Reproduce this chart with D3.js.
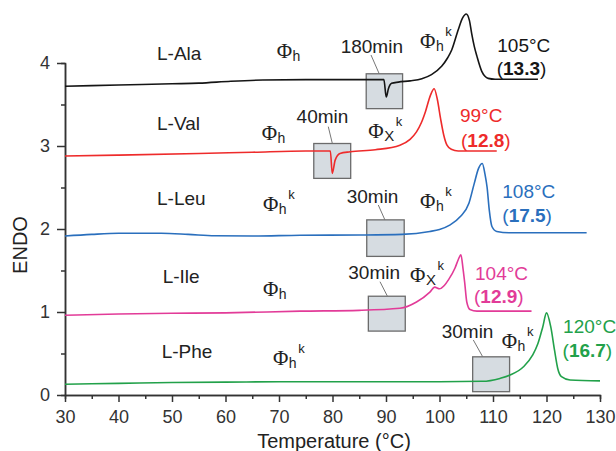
<!DOCTYPE html>
<html>
<head>
<meta charset="utf-8">
<script src="https://cdn.jsdelivr.net/npm/d3@7"></script>
<style>
  html, body { margin: 0; padding: 0; background: #fff; }
  svg { display: block; font-family: "Liberation Sans", Arial, sans-serif; }
</style>
</head>
<body>
<svg id="chart" width="616" height="451"></svg>
<script>
// DSC heating traces of five amino acids, stacked vertically (Temperature in °C, ENDO up)
const categories = ["L-Ala", "L-Val", "L-Leu", "L-Ile", "L-Phe"];
const seriesColors = ["#151515", "#ee2b2b", "#2a6fbd", "#e23b98", "#22a14a"];
const peakTemps = [105, 99, 108, 104, 120];
const enthalpies = ["13.3", "12.8", "17.5", "12.9", "16.7"];
const isothermTimes = ["180min", "40min", "30min", "30min", "30min"];

// [temperature, signal] samples for each trace
const alaTrace = [[30,3.72],[40,3.735],[50,3.75],[55,3.757],[61,3.78],[67,3.795],[75,3.80],[85,3.80],[89.6,3.80],[90.05,3.59],[90.45,3.69],[91.05,3.755],[92.3,3.77],[94.5,3.785],[96.7,3.81],[98.5,3.86],[100.4,3.96],[101.5,4.06],[102.3,4.16],[103.5,4.40],[104.3,4.54],[105,4.59],[105.6,4.51],[106,4.36],[106.5,4.20],[107,4.08],[107.9,3.90],[108.5,3.84],[109.1,3.815],[110.4,3.805],[118.4,3.805]];
const valTrace = [[30,2.88],[40,2.89],[55,2.91],[65,2.925],[75,2.94],[79.6,2.94],[79.95,2.67],[80.5,2.83],[81.4,2.91],[83.3,2.93],[88,2.955],[92.6,3.01],[94.5,3.08],[95.7,3.17],[96.6,3.28],[97.4,3.42],[98.3,3.61],[99,3.69],[99.6,3.56],[100.2,3.33],[100.8,3.13],[101.4,3.01],[102.2,2.96],[103.5,2.94],[110.7,2.94]];
const leuTrace = [[30,1.915],[35,1.935],[40,1.948],[48,1.948],[53,1.935],[58,1.918],[65,1.915],[74,1.925],[85,1.928],[93,1.935],[98.2,1.97],[100,1.995],[102,2.05],[103.9,2.15],[105.5,2.31],[106.5,2.55],[107.3,2.73],[108,2.79],[108.5,2.66],[108.9,2.50],[109.3,2.23],[109.8,2.03],[110.7,1.97],[113,1.955],[127.5,1.955]];
const ileTrace = [[30,0.96],[40,0.975],[50,0.985],[60,0.99],[74,1.01],[85,1.02],[92.6,1.045],[95.7,1.12],[98.2,1.24],[99.1,1.30],[100,1.28],[100.9,1.32],[101.7,1.39],[102.9,1.53],[103.5,1.63],[104,1.69],[104.4,1.52],[104.7,1.36],[105.1,1.12],[105.7,1.03],[107,1.01],[117.2,1.01]];
const pheTrace = [[30,0.13],[40,0.14],[50,0.15],[60,0.155],[70,0.16],[80,0.16],[90,0.16],[100,0.16],[108,0.165],[111.3,0.20],[113.2,0.24],[115.7,0.34],[117.4,0.48],[118.4,0.62],[119.3,0.82],[120,0.99],[120.8,0.82],[121.5,0.54],[122.1,0.32],[122.8,0.22],[124.4,0.18],[130,0.17]];
const traces = [alaTrace, valTrace, leuTrace, ileTrace, pheTrace];

const xTicks = [30, 40, 50, 60, 70, 80, 90, 100, 110, 120, 130];
const xMinorTicks = [35, 45, 55, 65, 75, 85, 95, 105, 115, 125];
const yTicks = [0, 1, 2, 3, 4];
const yMinorTicks = [0.5, 1.5, 2.5, 3.5];

const svg = d3.select("#chart");
const x = d3.scaleLinear().domain([30, 130]).range([65, 600]);
const y = d3.scaleLinear().domain([0, 4]).range([395, 63]);

// annotation anchors in data units (temperature, signal)
const nameAt = [[47.2, 4.036], [47.2, 3.193], [47.2, 2.293], [48.26, 1.353], [48.07, 0.442]];
const phaseLabels = [
  { at: [69.57, 4.057], sub: "h", sup: "" },
  { at: [96.36, 4.177], sub: "h", sup: "k" },
  { at: [66.77, 3.072], sub: "h", sup: "" },
  { at: [86.69, 3.096], sub: "X", sup: "k" },
  { at: [67.01, 2.217], sub: "h", sup: "k" },
  { at: [96.36, 2.247], sub: "h", sup: "k" },
  { at: [67.01, 1.193], sub: "h", sup: "" },
  { at: [94.49, 1.367], sub: "X", sup: "k" },
  { at: [68.88, 0.361], sub: "h", sup: "k" },
  { at: [111.63, 0.572], sub: "h", sup: "k" }
];
const timeAt = [[81.53, 4.117], [73.29, 3.273], [82.65, 2.310], [82.95, 1.394], [100.41, 0.683]];
const leaderAt = [
  [[87.2, 4.096], [88.75, 3.867]],
  [[79.21, 3.233], [79.96, 3.033]],
  [[88.56, 2.289], [89.81, 2.108]],
  [[88.88, 1.365], [90.24, 1.193]],
  [[106.32, 0.663], [108.07, 0.461]]
];
const boxAt = [
  [86.3, 93.1, 3.87, 3.45],
  [76.5, 83.4, 3.03, 2.61],
  [86.4, 93.4, 2.11, 1.67],
  [86.7, 93.6, 1.19, 0.77],
  [106.2, 113.1, 0.46, 0.04]
];
const peakLabelAt = [
  [[110.80, 4.136], [110.69, 3.855]],
  [[103.83, 3.293], [104.02, 2.992]],
  [[111.74, 2.370], [111.74, 2.084]],
  [[106.64, 1.386], [106.45, 1.105]],
  [[123.1, 0.743], [123.0, 0.461]]
];

// axes
const axisColor = "#333";
function styleAxis(g) {
  g.select(".domain").attr("stroke", axisColor).attr("stroke-width", 1.5);
  g.selectAll(".tick line").attr("stroke", axisColor).attr("stroke-width", 1.5);
  g.selectAll(".tick text").attr("fill", "#333").attr("font-size", 18)
    .attr("font-family", "'Liberation Sans', Arial, sans-serif");
}
svg.append("g").attr("transform", "translate(0,395)")
  .call(d3.axisBottom(x).tickValues(xMinorTicks).tickSize(4).tickFormat(""))
  .call(styleAxis);
svg.append("g").attr("transform", "translate(65,0)")
  .call(d3.axisLeft(y).tickValues(yMinorTicks).tickSize(4).tickFormat(""))
  .call(styleAxis);
svg.append("g").attr("transform", "translate(0,395)")
  .call(d3.axisBottom(x).tickValues(xTicks).tickSize(7).tickSizeOuter(0).tickPadding(8.5).tickFormat(d3.format("d")))
  .call(styleAxis);
svg.append("g").attr("transform", "translate(65,0)")
  .call(d3.axisLeft(y).tickValues(yTicks).tickSize(8).tickSizeOuter(0).tickPadding(7).tickFormat(d3.format("d")))
  .call(styleAxis);

svg.append("text").attr("x", 334).attr("y", 448.3).attr("text-anchor", "middle")
  .attr("font-size", 20).attr("fill", "#222").text("Temperature (°C)");
svg.append("text").attr("transform", "translate(26.5,245) rotate(-90)").attr("text-anchor", "middle")
  .attr("font-size", 20).attr("fill", "#222").text("ENDO");

// isothermal boxes and their leader lines
const boxes = svg.append("g");
boxAt.forEach(b => {
  boxes.append("rect")
    .attr("x", x(b[0])).attr("y", y(b[2]))
    .attr("width", x(b[1]) - x(b[0])).attr("height", y(b[3]) - y(b[2]))
    .attr("fill", "#d6dce1").attr("stroke", "#6b6b6b").attr("stroke-width", 1.3);
});
leaderAt.forEach(l => {
  boxes.append("line")
    .attr("x1", x(l[0][0])).attr("y1", y(l[0][1]))
    .attr("x2", x(l[1][0])).attr("y2", y(l[1][1]))
    .attr("stroke", "#777").attr("stroke-width", 1);
});

// traces
const line = d3.line().x(d => x(d[0])).y(d => y(d[1])).curve(d3.curveMonotoneX);
traces.forEach((t, i) => {
  svg.append("path").datum(t).attr("d", line)
    .attr("fill", "none").attr("stroke", seriesColors[i]).attr("stroke-width", 1.6)
    .attr("stroke-linejoin", "round");
});

// sample names
categories.forEach((c, i) => {
  svg.append("text").attr("x", x(nameAt[i][0])).attr("y", y(nameAt[i][1]))
    .attr("font-size", 19).attr("fill", "#222").text(c);
});

// isotherm durations
isothermTimes.forEach((t, i) => {
  svg.append("text").attr("x", x(timeAt[i][0])).attr("y", y(timeAt[i][1]))
    .attr("font-size", 19).attr("fill", "#222").text(t);
});

// phase symbols
phaseLabels.forEach(p => {
  const t = svg.append("text").attr("x", x(p.at[0])).attr("y", y(p.at[1])).attr("fill", "#222");
  t.append("tspan").attr("font-family", "'Liberation Serif', 'Times New Roman', serif")
    .attr("font-size", 21).text("Φ");
  t.append("tspan").attr("font-size", p.sub === "X" ? 15 : 14).attr("dy", 3).attr("dx", 0.5).text(p.sub);
  if (p.sup) {
    t.append("tspan").attr("font-size", 13).attr("dy", -15).attr("dx", 1.5).text(p.sup);
  }
});

// peak temperature and enthalpy
peakTemps.forEach((tp, i) => {
  const c = seriesColors[i];
  svg.append("text").attr("x", x(peakLabelAt[i][0][0])).attr("y", y(peakLabelAt[i][0][1]))
    .attr("font-size", 19).attr("fill", c).text(tp + "°C");
  const e = svg.append("text").attr("x", x(peakLabelAt[i][1][0])).attr("y", y(peakLabelAt[i][1][1]))
    .attr("font-size", 19).attr("fill", c);
  e.append("tspan").text("(");
  e.append("tspan").attr("font-weight", "bold").text(enthalpies[i]);
  e.append("tspan").text(")");
});
</script>
</body>
</html>
